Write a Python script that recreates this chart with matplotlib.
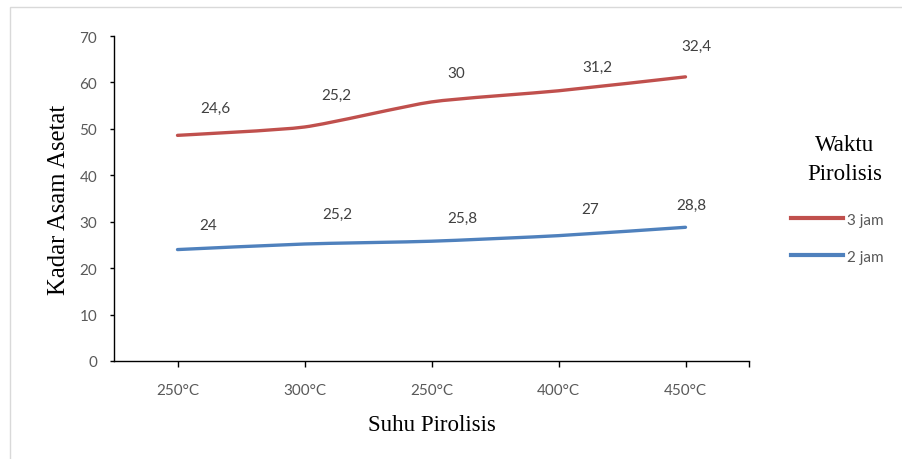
import matplotlib.pyplot as plt
from matplotlib.path import Path
from matplotlib.patches import PathPatch, Rectangle
from matplotlib.lines import Line2D
import numpy as np

# data
suhu = ["250°C", "300°C", "250°C", "400°C", "450°C"]
jam2 = [24, 25.2, 25.8, 27, 28.8]
jam3 = [24.6, 25.2, 30, 31.2, 32.4]

# label offsets (points)
off2 = [(22, 18), (24, 22), (22, 17), (23, 19), (4, 16)]
off3 = [(27, 20), (23, 23), (18, 21), (28, 17), (8, 22)]

RED = "#C0504D"
BLUE = "#4F81BD"
SANS = "Lato"
SERIF = "Liberation Serif"


def smooth_path(x, y, k=10):
    # cubic bezier through the points, like Excel's smoothed line
    pts = np.column_stack([x, y]).astype(float)
    n = len(pts)
    verts = [pts[0]]
    codes = [Path.MOVETO]
    for i in range(n - 1):
        p0 = pts[max(i - 1, 0)]
        p1 = pts[i]
        p2 = pts[i + 1]
        p3 = pts[min(i + 2, n - 1)]
        verts += [p1 + (p2 - p0) / k, p2 - (p3 - p1) / k, p2]
        codes += [Path.CURVE4] * 3
    return Path(verts, codes)


fig = plt.figure(figsize=(9.02, 4.6), dpi=100)
ax = fig.add_axes([114 / 902, 1 - 362 / 460, 635 / 902, 325 / 460])

x = np.arange(len(suhu))
stack3 = np.array(jam2) + np.array(jam3)

for yy, col in [(stack3, RED), (np.array(jam2), BLUE)]:
    ax.add_patch(PathPatch(smooth_path(x, yy), fill=False, edgecolor=col,
                           lw=2.4, capstyle="round", joinstyle="round"))

for xi, yi, v, o in zip(x, stack3, jam3, off3):
    ax.annotate(str(v).replace(".", ","), (xi, yi), xytext=o,
                textcoords="offset points", ha="center", va="center",
                fontsize=11, color="#404040", family=SANS)
for xi, yi, v, o in zip(x, jam2, jam2, off2):
    ax.annotate(str(v).replace(".", ","), (xi, yi), xytext=o,
                textcoords="offset points", ha="center", va="center",
                fontsize=11, color="#404040", family=SANS)

ax.set_xlim(-0.5, 4.5)
ax.set_ylim(0, 70)
ax.set_yticks(range(0, 71, 10))
ax.set_xticks(x)
ax.set_xticklabels(suhu)
ax.set_xticks([4.5], minor=True)
for s in ["top", "right"]:
    ax.spines[s].set_visible(False)
for s in ["left", "bottom"]:
    ax.spines[s].set_linewidth(1.0)
ax.tick_params(axis="y", length=3, width=1, pad=9, labelsize=11, labelcolor="#595959")
ax.tick_params(axis="x", which="both", length=4, width=1, pad=12, labelsize=11, labelcolor="#595959")
for lab in ax.get_xticklabels() + ax.get_yticklabels():
    lab.set_family(SANS)

ax.set_xlabel("Suhu Pirolisis", family=SERIF, fontsize=16.5, labelpad=12)
ax.set_ylabel("Kadar Asam Asetat", family=SERIF, fontsize=17.7, labelpad=7)

# legend
fig.text(845 / 902, 1 - 160 / 460, "Waktu\nPirolisis", ha="center", va="center",
         family=SERIF, fontsize=16.5, linespacing=1.45)
handles = [Line2D([], [], color=RED, lw=3), Line2D([], [], color=BLUE, lw=3)]
fig.legend(handles, ["3 jam", "2 jam"], loc="upper left",
           bbox_to_anchor=(777 / 902, 1 - 200 / 460), frameon=False,
           prop={"family": SANS, "size": 11}, labelcolor="#595959",
           handlelength=3.4, handletextpad=0.25, labelspacing=1.5)

# chart area frame
fig.patches.append(Rectangle((10 / 902, -0.1), 1.2, 1.1 - 8 / 460,
                             transform=fig.transFigure, fill=False,
                             edgecolor="#d9d9d9", lw=1))

fig.savefig("out.png", dpi=100)
